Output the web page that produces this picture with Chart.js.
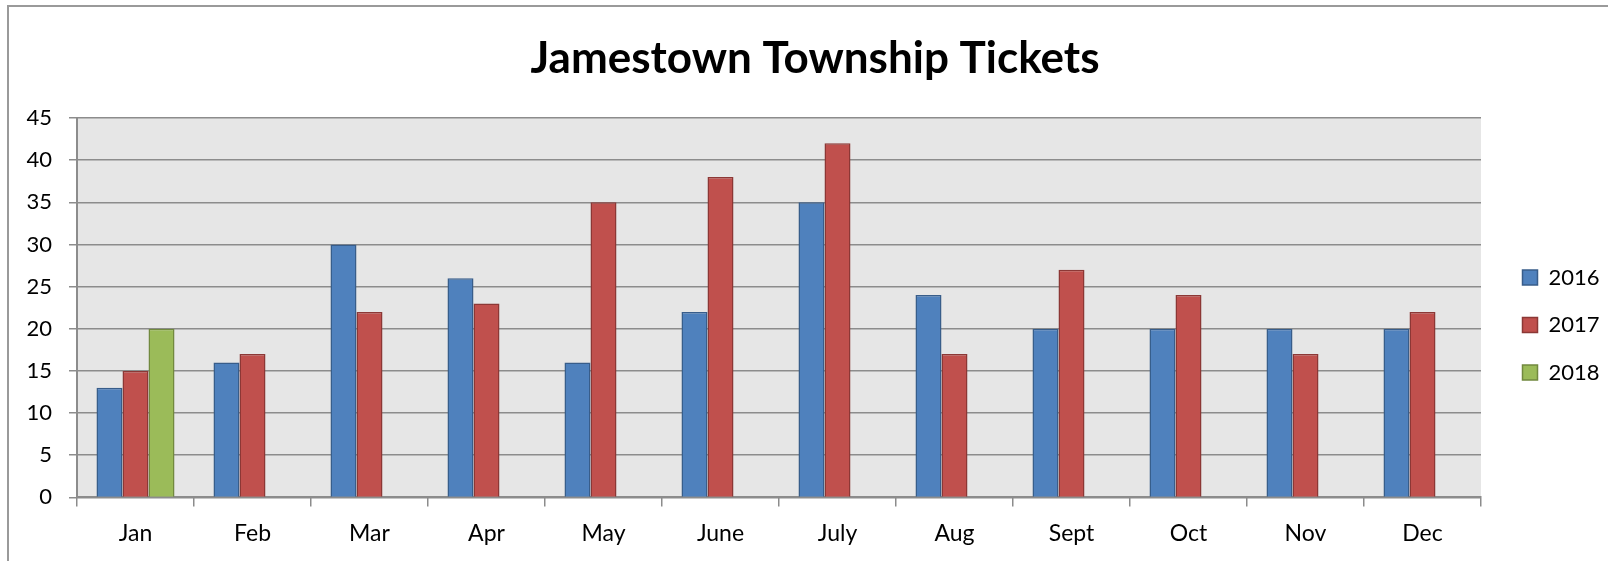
<!DOCTYPE html>
<html>
<head>
<meta charset="utf-8">
<script src="https://cdn.jsdelivr.net/npm/chart.js@4"></script>
<style>
  html, body { margin: 0; padding: 0; background: #ffffff; overflow: hidden; }
  #frame { position: absolute; left: 7px; top: 5px; width: 1700px; height: 700px; border: 2px solid #9a9a9a; box-sizing: border-box; }
  #c { position: absolute; left: 0; top: 0; }
</style>
</head>
<body>
<div id="frame"></div>
<canvas id="c" width="1608" height="561"></canvas>
<script>
const categories = ["Jan", "Feb", "Mar", "Apr", "May", "June", "July", "Aug", "Sept", "Oct", "Nov", "Dec"];
const seriesNames = ["2016", "2017", "2018"];
const values2016 = [13, 16, 30, 26, 16, 22, 35, 24, 20, 20, 20, 20];
const values2017 = [15, 17, 22, 23, 35, 38, 42, 17, 27, 24, 17, 22];
const values2018 = [20, null, null, null, null, null, null, null, null, null, null, null];
const yTicks = [0, 5, 10, 15, 20, 25, 30, 35, 40, 45];
const chartTitle = "Jamestown Township Tickets";

const FONT = "Lato, 'Open Sans', 'Liberation Sans', sans-serif";

const plotBg = {
  id: 'plotBg',
  beforeDraw(chart) {
    const {ctx, chartArea: a} = chart;
    ctx.save();
    ctx.fillStyle = '#e6e6e6';
    ctx.fillRect(a.left, a.top, a.right - a.left, a.bottom - a.top);
    ctx.restore();
  }
};

const chart = new Chart(document.getElementById('c'), {
  type: 'bar',
  data: {
    labels: categories,
    datasets: [
      { label: seriesNames[0], data: values2016, backgroundColor: '#4f81bd', borderColor: '#385d8a', borderWidth: 1.5 },
      { label: seriesNames[1], data: values2017, backgroundColor: '#c0504d', borderColor: '#8c3836', borderWidth: 1.5 },
      { label: seriesNames[2], data: values2018, backgroundColor: '#9bbb59', borderColor: '#71893f', borderWidth: 1.5 }
    ]
  },
  options: {
    responsive: false,
    animation: false,
    devicePixelRatio: 1,
    layout: { padding: { left: 24, right: 2, top: 32, bottom: 1 } },
    datasets: { bar: { categoryPercentage: 0.667, barPercentage: 1.0 } },
    plugins: {
      title: {
        display: true,
        text: chartTitle,
        color: '#000',
        font: { family: FONT, size: 44, weight: 'bold', lineHeight: 1.2 },
        padding: { top: 0, bottom: 33.2 }
      },
      legend: {
        position: 'right',
        align: 'center',
        labels: {
          color: '#000',
          font: { family: FONT, size: 22 },
          boxWidth: 15,
          boxHeight: 15,
          padding: 25.5
        }
      },
      tooltip: { enabled: false }
    },
    scales: {
      x: {
        grid: { display: true, drawOnChartArea: false, drawTicks: true, tickLength: 9, color: '#8c8c8c', lineWidth: 1.5, offset: true },
        border: { display: true, color: '#8c8c8c', width: 2 },
        ticks: { color: '#000', font: { family: FONT, size: 23 }, padding: 13, maxRotation: 0 }
      },
      y: {
        min: 0, max: 45,
        afterBuildTicks(scale) { scale.ticks = yTicks.map(v => ({ value: v })); },
        afterFit(scale) { scale.width = 53; },
        grid: { color: '#8c8c8c', lineWidth: 1.5, tickLength: 8 },
        border: { display: true, color: '#8c8c8c', width: 2 },
        ticks: { color: '#000', font: { family: FONT, size: 22 }, padding: 17 }
      }
    }
  },
  plugins: [plotBg]
});

// Fix the legend box width and nudge its drawing position to match the reference
const L = chart.legend;
const origFit = L.fit.bind(L);
L.fit = function () { origFit(); this.width = 125; };
const origDraw = L.draw.bind(L);
L.draw = function () {
  const dx = 16, dy = 29;
  this.left += dx; this.right += dx; this.top += dy; this.bottom += dy;
  origDraw();
  this.left -= dx; this.right -= dx; this.top -= dy; this.bottom -= dy;
};
chart.update();
</script>
</body>
</html>
